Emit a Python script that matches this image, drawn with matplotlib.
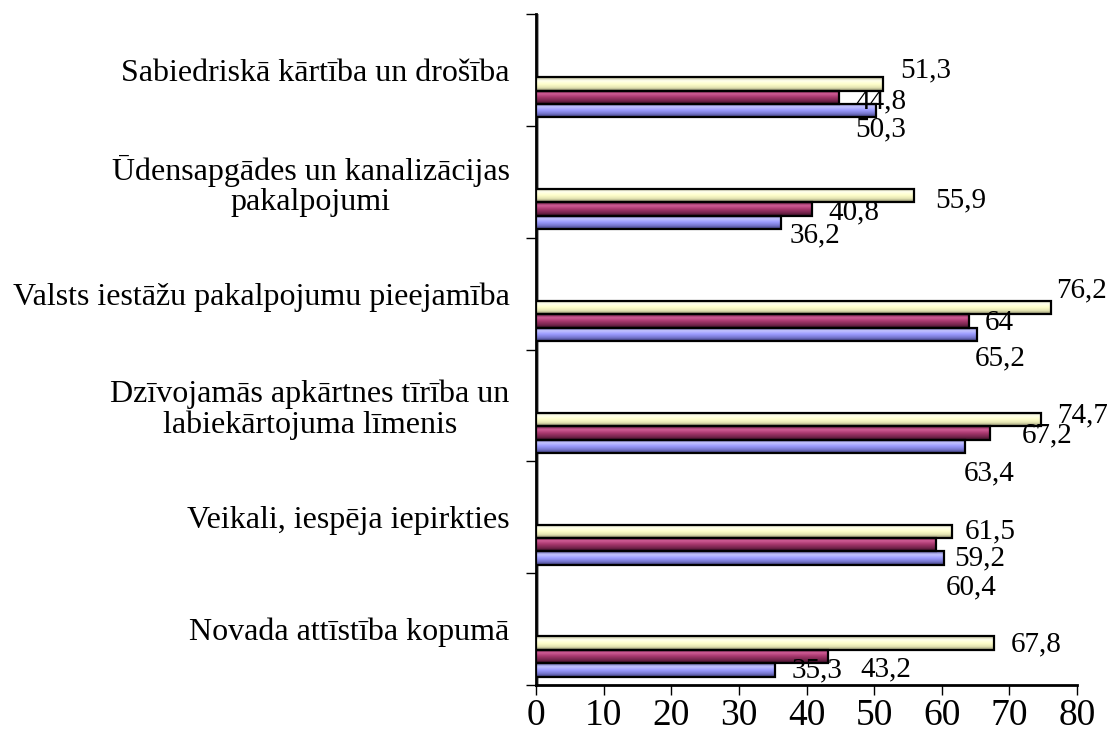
import numpy as np
import matplotlib.pyplot as plt
from matplotlib.colors import LinearSegmentedColormap

plt.rcParams["font.family"] = ["Liberation Serif", "DejaVu Serif"]

####data####
categories = ["Sabiedriskā kārtība un drošība",
              "Ūdensapgādes un kanalizācijas\npakalpojumi",
              "Valsts iestāžu pakalpojumu pieejamība",
              "Dzīvojamās apkārtnes tīrība un\nlabiekārtojuma līmenis",
              "Veikali, iespēja iepirkties",
              "Novada attīstība kopumā"]
cream_vals = [51.3, 55.9, 76.2, 74.7, 61.5, 67.8]
maroon_vals = [44.8, 40.8, 64.0, 67.2, 59.2, 43.2]
blue_vals = [50.3, 36.2, 65.2, 63.4, 60.4, 35.3]
x_ticks = [0, 10, 20, 30, 40, 50, 60, 70, 80]

####styles####
# shading from top to bottom of each bar (fake 3D cylinder look)
shades = {
    "cream": ["#b8b890", "#ffffee", "#ffffcc", "#e6e6b4", "#8c8c6c"],
    "maroon": ["#6a2045", "#d05c96", "#a8386e", "#7a2650", "#3c1026"],
    "blue": ["#6464a8", "#c4c4ff", "#9c9cff", "#7878d0", "#3c3c78"],
}
# data label nudges in pixels (dx from bar end, dy downward), as placed in the original
label_nudge = {
    "cream": [(17, -14), (21, 5), (5, -17), (16, -4), (13, 0), (16, 1)],
    "maroon": [(16, 4), (16, 3), (16, 2), (31, 3), (18, 14), (32, 13)],
    "blue": [(-21, 19), (9, 13), (-2, 24), (-1, 27), (1, 29), (17, 0)],
}
bar_h = 0.12
group_pos = 0.745


def fmt(v):
    return ("%g" % v).replace(".", ",")


fig = plt.figure(figsize=(11.1, 7.35), dpi=100)
ax = fig.add_axes([536 / 1110, 1 - 685 / 735, (1077 - 536) / 1110, (685 - 14) / 735])

idx = np.arange(len(categories))
series = [("cream", cream_vals, -1), ("maroon", maroon_vals, 0), ("blue", blue_vals, 1)]

ax.axvspan(0, 0.45, color="#a0a0a0", zorder=1, lw=0)

for name, vals, k in series:
    ypos = idx + group_pos + k * bar_h
    bars = ax.barh(ypos, vals, height=bar_h, facecolor="none",
                   edgecolor="black", linewidth=1.6, zorder=4)
    cmap = LinearSegmentedColormap.from_list(name, shades[name])
    grad = np.linspace(0, 1, 64).reshape(-1, 1)
    for p in bars.patches:
        x0, y0, w, h = p.get_x(), p.get_y(), p.get_width(), p.get_height()
        ax.imshow(grad, cmap=cmap, aspect="auto", origin="upper",
                  extent=(x0, x0 + w, y0 + h, y0), zorder=3, interpolation="bilinear")
    for v, y, (dx, dy) in zip(vals, ypos, label_nudge[name]):
        ax.annotate(fmt(v), xy=(v, y), xytext=(dx, -dy), textcoords="offset pixels",
                    ha="left", va="center", fontsize=21, zorder=5)

ax.set_xlim(0, 80)
ax.set_ylim(6, 0)
ax.set_xticks(x_ticks)
ax.set_xticklabels([str(t) for t in x_ticks], fontsize=27)
ax.set_yticks(np.arange(0, 7))
ax.set_yticklabels([])
ax.set_yticks(idx + 0.5, minor=True)
ax.set_yticklabels(categories, minor=True, fontsize=23, multialignment="center",
                   linespacing=1.05)
ax.tick_params(axis="y", which="minor", length=0, pad=19)
ax.tick_params(axis="y", which="major", length=7, width=1, direction="out")
ax.tick_params(axis="x", length=7, width=1, direction="out", pad=3)

ax.spines["right"].set_visible(False)
ax.spines["top"].set_visible(False)
ax.spines["left"].set_linewidth(2)
ax.spines["bottom"].set_linewidth(2)

plt.savefig("out.png", dpi=100)
